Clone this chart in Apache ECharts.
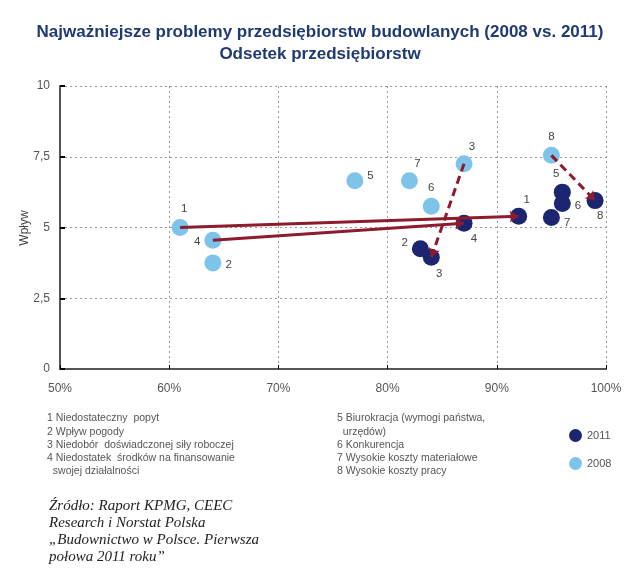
<!DOCTYPE html>
<html>
<head>
<meta charset="utf-8">
<script src="https://cdn.jsdelivr.net/npm/echarts@6/dist/echarts.min.js"></script>
<style>html,body{margin:0;padding:0;background:#fff}#c{width:640px;height:585px}</style>
</head>
<body>
<div id="c"></div>
<script>
// ---- data ----
var ids = ['1','2','3','4','5','6','7','8'];
var share2008 = [61, 64, 87, 64, 77, 84, 82, 95];
var impact2008 = [5.0, 3.75, 7.25, 4.55, 6.65, 5.75, 6.65, 7.55];
var share2011 = [92, 83, 84, 87, 96, 96, 95, 99];
var impact2011 = [5.4, 4.25, 3.95, 5.15, 6.25, 5.85, 5.35, 5.95];
var solidArrows = ['1', '4'];
var dashedArrows = ['3', '8'];
var xTicks = [50, 60, 70, 80, 90, 100];
var yTicks = [0, 2.5, 5, 7.5, 10];
var yAxisName = 'Wpływ';
var problemsLeft = ['1 Niedostateczny  popyt', '2 Wpływ pogody', '3 Niedobór  doświadczonej siły roboczej', '4 Niedostatek  środków na finansowanie', '  swojej działalności'];
var problemsRight = ['5 Biurokracja (wymogi państwa,', '  urzędów)', '6 Konkurencja', '7 Wysokie koszty materiałowe', '8 Wysokie koszty pracy'];
var sourceLines = ['Źródło: Raport KPMG, CEEC', 'Research i Norstat Polska', '„Budownictwo w Polsce. Pierwsza', 'połowa 2011 roku”'];
var titleLines = ['Najważniejsze problemy przedsiębiorstw budowlanych (2008 vs. 2011)', 'Odsetek przedsiębiorstw'];

// ---- styles ----
var pos2008 = [['top',[4,0]],['right',[0,2]],['top',[8,2]],['left',[0,2]],['right',[0,-5]],['top',[0,0]],['top',[8,2]],['top',[0,0]]];
var pos2011 = [['top',[8,2]],['left',[0,-6]],['bottom',[8,-2]],['bottom',[10,-3]],['top',[-6,0]],['right',[0,2]],['right',[0,5]],['bottom',[5,-3]]];
var C2008 = '#7ec3ea', C2011 = '#1c2570', ARROW = '#8e1b2d';

function pts(xs, ys, pos) {
  return ids.map(function (id, i) {
    return { name: id, value: [xs[i], ys[i]], label: { position: pos[i][0], offset: pos[i][1] } };
  });
}
function arrows(list) {
  return list.map(function (id) {
    var i = ids.indexOf(id);
    return { coords: [[share2008[i], impact2008[i]], [share2011[i], impact2011[i]]] };
  });
}

var chart = echarts.init(document.getElementById('c'));
var labelStyle = { show: true, formatter: '{b}', color: '#444', fontSize: 11.5, fontFamily: 'Liberation Sans', distance: 4 };
chart.setOption({
  animation: false,
  title: {
    text: titleLines.join('\n'), left: 'center', top: 16,
    textStyle: { color: '#1f3a73', fontSize: 17, fontWeight: 'bold', fontFamily: 'Liberation Sans', lineHeight: 22 }
  },
  grid: { left: 60, right: 34, top: 86, bottom: 216 },
  xAxis: {
    type: 'value', min: xTicks[0], max: xTicks[xTicks.length - 1], interval: 10,
    axisLine: { lineStyle: { color: '#555', width: 2 } },
    axisTick: { show: true, inside: true, length: 4, lineStyle: { color: '#000' } },
    axisLabel: { formatter: '{value}%', color: '#555', fontSize: 12, fontFamily: 'Liberation Sans', margin: 14 },
    splitLine: { show: true, lineStyle: { type: [2, 3], color: '#999' } }
  },
  yAxis: {
    type: 'value', min: yTicks[0], max: yTicks[yTicks.length - 1], interval: 2.5,
    axisLine: { show: true, lineStyle: { color: '#555', width: 2 } },
    axisTick: { show: true, inside: true, length: 5, lineStyle: { color: '#000', width: 2 } },
    axisLabel: { formatter: function (v) { return String(v).replace('.', ','); }, color: '#555', fontSize: 12, fontFamily: 'Liberation Sans', margin: 10 },
    splitLine: { show: true, lineStyle: { type: [2, 3], color: '#999' } }
  },
  legend: {
    orient: 'vertical', left: 564, top: 424, itemWidth: 13, itemHeight: 13, itemGap: 15,
    data: [{ name: '2011', icon: 'circle' }, { name: '2008', icon: 'circle' }],
    textStyle: { color: '#555', fontSize: 11, fontFamily: 'Liberation Sans' }
  },
  series: [
    { name: '2008', type: 'scatter', symbolSize: 17, itemStyle: { color: C2008, opacity: 1 }, label: labelStyle, data: pts(share2008, impact2008, pos2008), z: 2 },
    { name: '2011', type: 'scatter', symbolSize: 17, itemStyle: { color: C2011, opacity: 1 }, label: labelStyle, data: pts(share2011, impact2011, pos2011), z: 2 },
    { type: 'lines', coordinateSystem: 'cartesian2d', z: 5, symbol: ['none', 'arrow'], symbolSize: 9,
      lineStyle: { color: ARROW, width: 3, opacity: 1, type: 'solid' }, data: arrows(solidArrows) },
    { type: 'lines', coordinateSystem: 'cartesian2d', z: 5, symbol: ['none', 'arrow'], symbolSize: 9,
      lineStyle: { color: ARROW, width: 3, opacity: 1, type: [8, 5] }, data: arrows(dashedArrows) }
  ],
  graphic: [
    { type: 'text', x: 25, y: 228, rotation: Math.PI / 2, style: { text: yAxisName, fill: '#444', font: '12px "Liberation Sans"', align: 'center', verticalAlign: 'middle' } },
    { type: 'text', left: 47, top: 412, style: { text: problemsLeft.join('\n'), fill: '#555', font: '10.5px "Liberation Sans"', lineHeight: 13.2 } },
    { type: 'text', left: 337, top: 412, style: { text: problemsRight.join('\n'), fill: '#555', font: '10.5px "Liberation Sans"', lineHeight: 13.2 } },
    { type: 'text', left: 49, top: 498, style: { text: sourceLines.join('\n'), fill: '#222', font: 'italic 15px "Liberation Serif"', lineHeight: 17 } }
  ]
});
</script>
</body>
</html>
